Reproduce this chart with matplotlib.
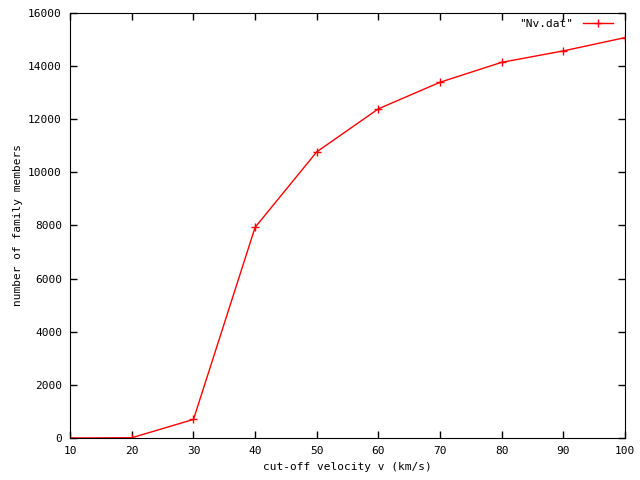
import matplotlib
matplotlib.use('Agg')
import matplotlib.pyplot as plt

# data
velocity = [10, 20, 30, 40, 50, 60, 70, 80, 90, 100]
members = [0, 10, 700, 7930, 10770, 12390, 13390, 14140, 14570, 15070]

plt.rcParams['font.family'] = 'DejaVu Sans Mono'
plt.rcParams['font.size'] = 8

fig = plt.figure(figsize=(6.4, 4.8), dpi=100)
ax = fig.add_axes([0.1098, 0.0875, 0.8664, 0.8855])

ax.plot(velocity, members, color='red', lw=1, marker='+', ms=6, mew=1, label='"Nv.dat"')

ax.set_xlim(10, 100)
ax.set_ylim(0, 16000)
ax.set_xticks(range(10, 101, 10))
ax.set_yticks(range(0, 16001, 2000))
ax.tick_params(direction='in', top=True, right=True, length=5, width=1, pad=6)
ax.set_xlabel('cut-off velocity v (km/s)')
ax.set_ylabel('number of family members')

# legend placed top right, text before the line sample
leg = ax.legend(loc='upper right', bbox_to_anchor=(612.7 / 640, 0.961),
                bbox_transform=fig.transFigure, frameon=False, markerfirst=False,
                handlelength=2.7, handletextpad=0.9, borderpad=0, borderaxespad=0)

fig.savefig('out.png')
